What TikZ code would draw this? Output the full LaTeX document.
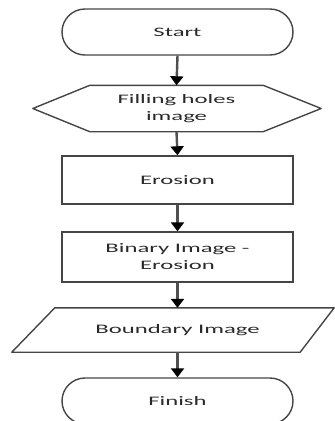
\documentclass[tikz,border=0pt]{standalone}
\usepackage{fontspec}
\newfontfamily\lbl{Carlito}[FakeStretch=1.9]
\usetikzlibrary{arrows.meta,calc,shapes.misc}
\definecolor{outline}{HTML}{454545}
\definecolor{shaft}{HTML}{505050}
\definecolor{txt}{HTML}{2A2A2A}
\begin{document}
\begin{tikzpicture}[x=1pt,y=-1pt,
  lbltext/.style={font=\lbl\fontsize{13}{17}\selectfont, text=txt, align=center, inner sep=0pt},
  stepbox/.style={lbltext, draw=outline, line width=1.4pt, minimum width=231pt},
  terminal/.style={stepbox, rounded rectangle, rounded rectangle arc length=180, minimum height=46pt},
  frame/.style={lbltext},
  edgeline/.style={draw=outline, line width=1.4pt, line join=round},
  flow/.style={draw=shaft, line width=2.4pt, -{Triangle[length=9pt,width=13pt,color=black]}}]
\useasboundingbox (0,0) rectangle (335,421);

% terminals and process steps
\node[terminal] (start) at (177.5,32) {Start};
\node[frame, minimum width=173pt, minimum height=46pt] (fill) at (176.5,108.5) {Filling holes\\image};
\node[stepbox, minimum height=48pt] (eros) at (177.5,180) {Erosion};
\node[stepbox, minimum height=50pt] (diff) at (177.5,257) {Binary Image -\\Erosion};
\node[frame, minimum width=245pt, minimum height=44pt] (bound) at (177.5,330) {Boundary Image};
\node[terminal] (finish) at (177.5,401) {Finish};

% hexagon (preparation)
\draw[edgeline] (fill.north west) -- (fill.north east) -- ($(fill.east)+(58,0)$)
  -- (fill.south east) -- (fill.south west) -- ($(fill.west)+(-57,0)$) -- cycle;

% parallelogram (data)
\draw[edgeline] (bound.north west) -- ($(bound.north east)+(34,0)$)
  -- (bound.south east) -- ($(bound.south west)+(-43,0)$) -- cycle;

% connectors
\draw[flow] (start.south) -- (fill.north);
\draw[flow] (fill.south) -- (eros.north);
\draw[flow] (eros.south) -- (diff.north);
\draw[flow] (diff.south) -- (bound.north);
\draw[flow] (bound.south) -- (finish.north);
\end{tikzpicture}
\end{document}
